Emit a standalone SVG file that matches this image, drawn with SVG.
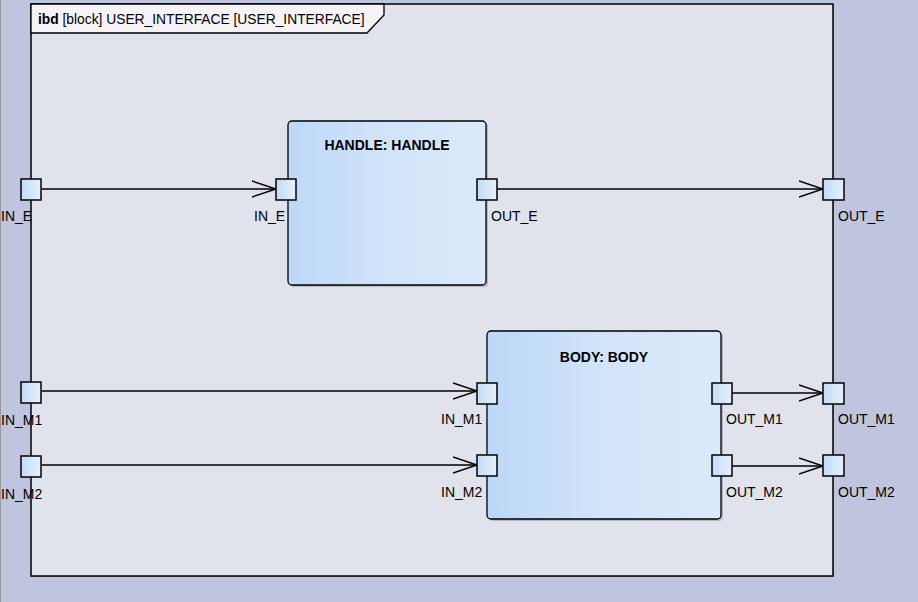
<svg xmlns="http://www.w3.org/2000/svg" width="918" height="602" viewBox="0 0 918 602">
<defs>
<linearGradient id="blk" x1="0" y1="0" x2="1" y2="0">
<stop offset="0" stop-color="#bcd8f7"/>
<stop offset="0.5" stop-color="#d2e4f9"/>
<stop offset="1" stop-color="#dbe9fb"/>
</linearGradient>
<linearGradient id="prt" x1="0" y1="0" x2="1" y2="0">
<stop offset="0" stop-color="#c2dcf7"/>
<stop offset="1" stop-color="#e6f0fc"/>
</linearGradient>
<marker id="arr" viewBox="0 0 24 18" refX="24" refY="9" markerWidth="24" markerHeight="18" markerUnits="userSpaceOnUse" orient="auto">
<path d="M0,1 L24,9 L0,17" fill="none" stroke="#000" stroke-width="1.5"/>
</marker>
</defs>
<style>
.lbl{font-family:"Liberation Sans",Arial,sans-serif;font-size:14px;fill:#000}
.ttl{font-family:"Liberation Sans",Arial,sans-serif;font-size:14px;font-weight:bold;fill:#000}
.port{fill:url(#prt);stroke:#000;stroke-width:1.5}
.blk{fill:url(#blk);stroke:#000;stroke-width:1.3}
.conn{fill:none;stroke:#000;stroke-width:1.3;marker-end:url(#arr)}
</style>
<rect x="0" y="0" width="918" height="602" fill="#c0c5df"/>
<line x1="0.5" y1="0" x2="0.5" y2="602" stroke="#9a9a9a" stroke-width="1"/>
<g id="frame">
<rect x="32" y="5" width="802" height="572" fill="#9a9aa8"/>
<rect x="31" y="4" width="802" height="572" fill="#e0e3ec" stroke="#000" stroke-width="1.5"/>
<path d="M31,4 L384,4 L384,15 L367,33 L31,33 Z" fill="#f6f3f7" stroke="#000" stroke-width="1.3"/>
<text x="38" y="24" class="lbl" style="font-size:13.8px"><tspan font-weight="bold">ibd</tspan> [block] USER_INTERFACE [USER_INTERFACE]</text>
</g>
<g id="HANDLE">
<rect x="290" y="123" width="198" height="164" rx="4" fill="#b5b8c4"/>
<rect x="288" y="121" width="198" height="164" rx="4" class="blk"/>
<text x="387" y="150" text-anchor="middle" class="ttl">HANDLE: HANDLE</text>
</g>
<g id="BODY">
<rect x="489" y="333" width="234" height="188" rx="4" fill="#b5b8c4"/>
<rect x="487" y="331" width="234" height="188" rx="4" class="blk"/>
<text x="604" y="362" text-anchor="middle" class="ttl">BODY: BODY</text>
</g>
<g id="connectors">
<line x1="42" y1="189" x2="276" y2="189" class="conn"/>
<line x1="497" y1="189" x2="823" y2="189" class="conn"/>
<line x1="42" y1="391" x2="477" y2="391" class="conn"/>
<line x1="42" y1="465" x2="477" y2="465" class="conn"/>
<line x1="732" y1="393" x2="823" y2="393" class="conn"/>
<line x1="732" y1="466" x2="823" y2="466" class="conn"/>
</g>
<g id="port_frame_IN_E"><rect x="21" y="179" width="20" height="21" class="port"/><text x="1" y="221" class="lbl">IN_E</text></g>
<g id="port_frame_IN_M1"><rect x="21" y="382" width="20" height="21" class="port"/><text x="1" y="425" class="lbl">IN_M1</text></g>
<g id="port_frame_IN_M2"><rect x="21" y="456" width="20" height="21" class="port"/><text x="1" y="499" class="lbl">IN_M2</text></g>
<g id="port_frame_OUT_E"><rect x="823" y="179" width="21" height="21" class="port"/><text x="838" y="221" class="lbl">OUT_E</text></g>
<g id="port_frame_OUT_M1"><rect x="823" y="383" width="21" height="21" class="port"/><text x="838" y="424" class="lbl">OUT_M1</text></g>
<g id="port_frame_OUT_M2"><rect x="823" y="455" width="21" height="21" class="port"/><text x="838" y="497" class="lbl">OUT_M2</text></g>
<g id="port_HANDLE_IN_E"><rect x="276" y="179" width="20" height="21" class="port"/><text x="254" y="221" class="lbl">IN_E</text></g>
<g id="port_HANDLE_OUT_E"><rect x="477" y="179" width="20" height="21" class="port"/><text x="491" y="221" class="lbl">OUT_E</text></g>
<g id="port_BODY_IN_M1"><rect x="477" y="383" width="20" height="21" class="port"/><text x="441" y="424" class="lbl">IN_M1</text></g>
<g id="port_BODY_IN_M2"><rect x="477" y="455" width="20" height="21" class="port"/><text x="441" y="497" class="lbl">IN_M2</text></g>
<g id="port_BODY_OUT_M1"><rect x="712" y="383" width="20" height="21" class="port"/><text x="726" y="424" class="lbl">OUT_M1</text></g>
<g id="port_BODY_OUT_M2"><rect x="712" y="455" width="20" height="21" class="port"/><text x="726" y="497" class="lbl">OUT_M2</text></g>
</svg>
